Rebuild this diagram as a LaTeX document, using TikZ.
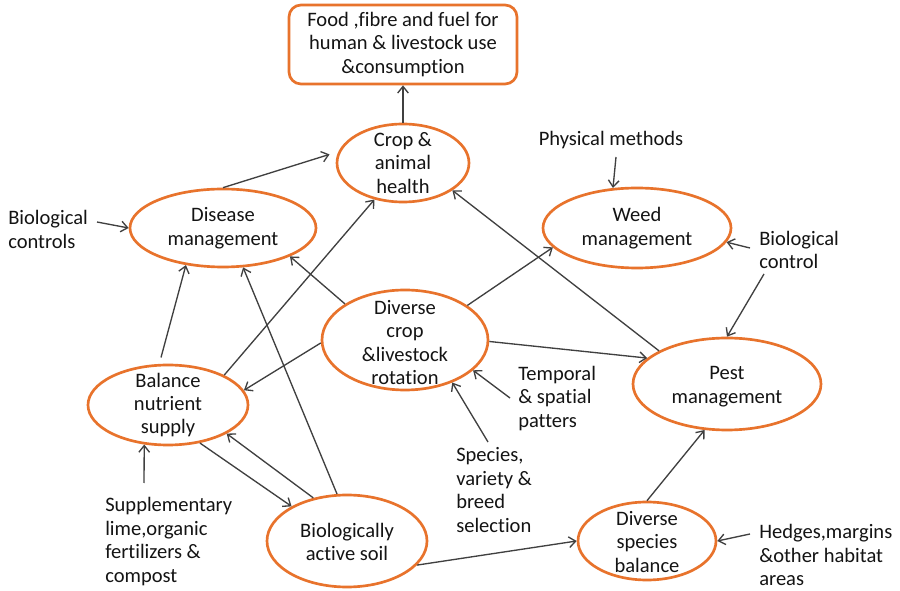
\documentclass[tikz,border=0pt]{standalone}
\usepackage{fontspec}
\setmainfont[Ligatures=NoCommon]{Carlito}
\usetikzlibrary{shapes.geometric,arrows.meta}
\definecolor{orng}{HTML}{E8732C}
\definecolor{lgray}{HTML}{404040}
\definecolor{txtc}{HTML}{141414}
\begin{document}
\begin{tikzpicture}[x=0.75pt,y=-0.75pt,
  ell/.style={ellipse, draw=orng, line width=2pt, inner sep=0pt},
  lbl/.style={font=\fontsize{15.4}{17.6}\selectfont, text=txtc, align=center, inner sep=0pt},
  side/.style={lbl, align=left, anchor=west},
  conn/.style={draw=lgray, line width=1pt, -{Straight Barb[length=5pt,width=8pt]}}]
\useasboundingbox[fill=white] (0,0) rectangle (900,591);

% main box
\node[lbl, draw=orng, line width=2pt, rounded corners=9pt, minimum width=171pt, minimum height=59.25pt] (food) at (403,44.5)
  {Food ,fibre and fuel for\\human \& livestock use\\\&consumption};

% ellipses
\node[ell, minimum width=99pt, minimum height=58.5pt] (crop) at (403,163) {};
\node[lbl] (cropt) at (crop) {Crop \&\\animal\\health};
\node[ell, minimum width=139.5pt, minimum height=58.5pt] (dis) at (223,228) {};
\node[lbl] (dist) at (dis) {Disease\\management};
\node[ell, minimum width=141pt, minimum height=60pt] (weed) at (637,228) {};
\node[lbl] (weedt) at (weed) {Weed\\management};
\node[ell, minimum width=141pt, minimum height=69pt] (pest) at (727,384) {};
\node[lbl] (pestt) at (727,386.5) {Pest\\management};
\node[ell, minimum width=124.5pt, minimum height=75pt] (dcr) at (405,340) {};
\node[lbl] (dcrt) at (405,342.5) {Diverse\\crop\\\&livestock\\rotation};
\node[ell, minimum width=120pt, minimum height=60pt] (bal) at (168,405) {};
\node[lbl] (balt) at (bal) {Balance\\nutrient\\supply};
\node[ell, minimum width=120pt, minimum height=69pt] (soil) at (347,541) {};
\node[lbl] (soilt) at (347,542) {Biologically\\active soil};
\node[ell, minimum width=103.5pt, minimum height=58.5pt] (dsp) at (647,541) {};
\node[lbl] (dspt) at (647,542) {Diverse\\species\\balance};

% side labels
\node[side] (bioc) at (8,229.5) {Biological\\controls};
\node[lbl] (phys) at (611,140) {Physical methods};
\node[side] (biocr) at (759,250) {Biological\\control};
\node[side] (temp) at (518,398.5) {Temporal\\\& spatial\\patters};
\node[side] (spec) at (456,490) {Species,\\variety \&\\breed\\selection};
\node[side] (supp) at (105,541.5) {Supplementary\\lime,organic\\fertilizers \&\\compost};
\node[side] (hedg) at (759,555) {Hedges,margins\\\&other habitat\\areas};

% tails of label arrows
\coordinate (biocT) at (97,222);
\coordinate (physT) at (616,157);
\coordinate (biocrT1) at (750,248);
\coordinate (biocrT2) at (764,274);
\coordinate (tempT) at (510,398);
\coordinate (specT) at (488,442);
\coordinate (suppT) at (144,483);
\coordinate (hedgT) at (750,534);

% connectors
\draw[conn] (crop.north) -- (food.south);
\draw[conn, shorten >=7pt] (dis.north) -- (crop.170);
\draw[conn] (biocT) -- (dis.west);
\draw[conn] (physT) -- (weed.121.6);
\draw[conn] (biocrT1) -- (weed.-9);
\draw[conn] (biocrT2) -- (pest.north);
\draw[conn] (pest.154) -- (crop.-29);
\draw[conn] (dcr.-1) -- (pest.162);
\draw[conn] (dcr.29) -- (weed.-167);
\draw[conn] (dcr.149) -- (dis.-23);
\draw[conn] (dcr.-178) -- (bal.11.5);
\draw[conn] (bal.28) -- (crop.-128.5);
\draw[conn, shorten <=5pt] (bal.102) -- (dis.-135);
\draw[conn] (soil.102) -- (dis.-63.4);
\draw[conn] (bal.-50) -- (soil.148.6);
\draw[conn] (soil.128.5) -- (bal.-26);
\draw[conn] (suppT) -- (bal.-121.6);
\draw[conn] (soil.-19.4) -- (dsp.west);
\draw[conn] (dsp.north) -- (pest.-116);
\draw[conn] (hedgT) -- (dsp.east);
\draw[conn] (tempT) -- (dcr.-24.6);
\draw[conn] (specT) -- (dcr.-42.6);
\end{tikzpicture}
\end{document}
